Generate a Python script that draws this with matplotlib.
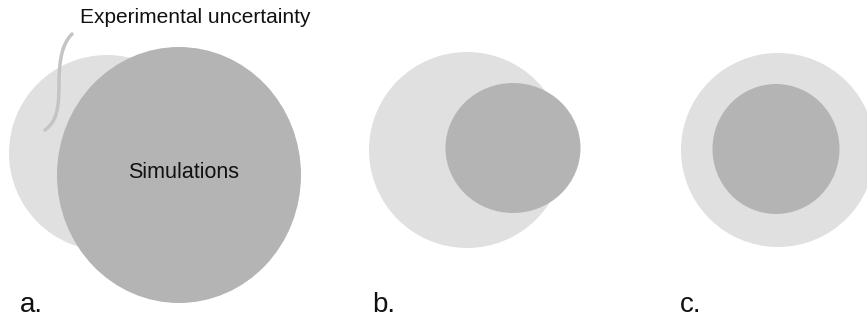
import matplotlib.pyplot as plt
from matplotlib.patches import Ellipse, PathPatch
from matplotlib.path import Path

plt.rcParams['font.family'] = ['Liberation Sans', 'DejaVu Sans']

# panels (pixel units, y downward)
panel_labels = ['a.', 'b.', 'c.']
label_x = [20, 372, 680]
label_y = 312

# experimental uncertainty (light) circles: centre x, centre y, width, height
exp_cx = [107, 467, 778]
exp_cy = [153, 150, 150]
exp_w = [196, 196, 194]
exp_h = [196, 196, 194]

# simulations (dark) ellipses
sim_cx = [179, 513, 776]
sim_cy = [175, 148, 149]
sim_w = [244, 135, 127]
sim_h = [256, 130, 130]

# leader curve (bezier control points) from label to light circle
curve_x = [72, 62, 59, 59, 59, 56, 45]
curve_y = [34, 44, 60, 85, 110, 122, 130]

light = '#e0e0e0'
dark = '#b4b4b4'

fig = plt.figure(figsize=(8.67, 3.17), dpi=100)
ax = fig.add_axes([0, 0, 1, 1])
ax.set_xlim(0, 867)
ax.set_ylim(317, 0)
ax.axis('off')

for i in range(3):
    ax.add_patch(Ellipse((exp_cx[i], exp_cy[i]), exp_w[i], exp_h[i],
                         facecolor=light, edgecolor='none'))
    ax.add_patch(Ellipse((sim_cx[i], sim_cy[i]), sim_w[i], sim_h[i],
                         facecolor=dark, edgecolor='none'))
    ax.text(label_x[i], label_y, panel_labels[i], fontsize=20,
            ha='left', va='baseline', color='#111111')

# curved leader line
codes = [Path.MOVETO] + [Path.CURVE4] * 6
path = Path(list(zip(curve_x, curve_y)), codes)
ax.add_patch(PathPatch(path, facecolor='none', edgecolor='#c4c4c4',
                       lw=2.5, capstyle='round'))

ax.text(80, 23, 'Experimental uncertainty', fontsize=15, ha='left',
        va='baseline', color='#111111')
ax.text(184, 172, 'Simulations', fontsize=15.5, ha='center', va='center',
        color='#111111')

fig.savefig('out.png', dpi=100)
